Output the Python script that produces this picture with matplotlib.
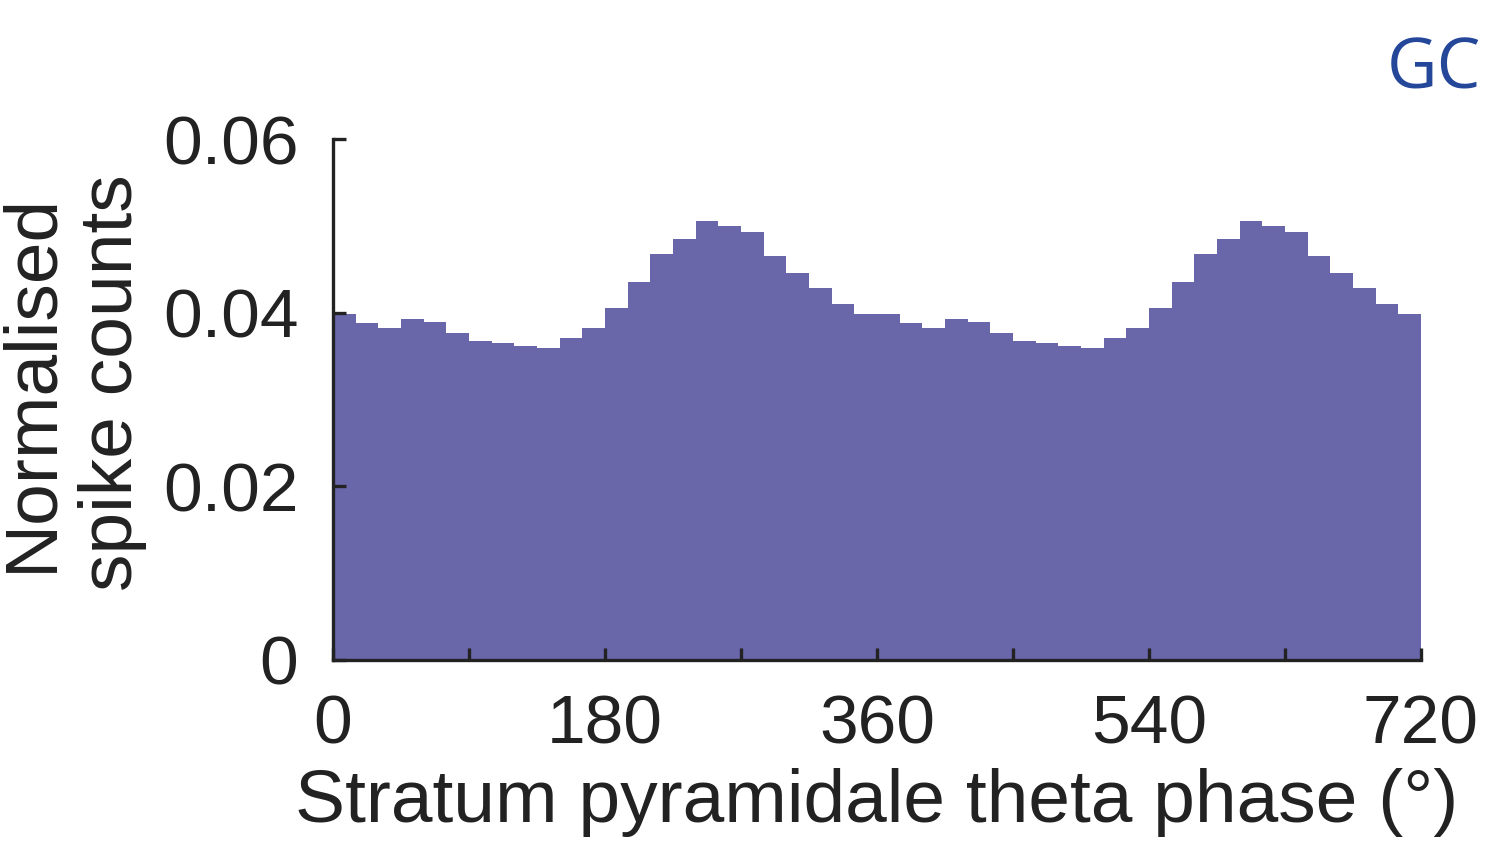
import numpy as np
import matplotlib
matplotlib.use("Agg")
import matplotlib.pyplot as plt

# ---- Data: normalised spike counts per 15 deg bin (one cycle, repeated) ----
bin_width = 15
counts_cycle = [0.0399, 0.0388, 0.0382, 0.0393, 0.0389, 0.0377, 0.0367, 0.0365,
                0.0362, 0.0359, 0.0371, 0.0382, 0.0405, 0.0435, 0.0467, 0.0485,
                0.0505, 0.0500, 0.0493, 0.0465, 0.0446, 0.0428, 0.0410, 0.0399]
counts = counts_cycle + counts_cycle
edges = np.arange(0, 720 + bin_width, bin_width)

xticks = [0, 90, 180, 270, 360, 450, 540, 630, 720]
xticklabels = ["0", "", "180", "", "360", "", "540", "", "720"]
yticks = [0, 0.02, 0.04, 0.06]
yticklabels = ["0", "0.02", "0.04", "0.06"]

bar_color = "#6967aa"
text_color = "#222222"

plt.rcParams['font.family'] = ['Liberation Sans', 'DejaVu Sans']

fig = plt.figure(figsize=(14.94, 8.56), dpi=100)
ax = fig.add_axes([0.2229, 0.2290, 0.7282, 0.6086])

ax.stairs(counts, edges, fill=True, color=bar_color, linewidth=0)

ax.set_xlim(0, 720)
ax.set_ylim(0, 0.06)
ax.set_xticks(xticks)
ax.set_xticklabels(xticklabels)
ax.set_yticks(yticks)
ax.set_yticklabels(yticklabels)

for s in ["top", "right"]:
    ax.spines[s].set_visible(False)
for s in ["left", "bottom"]:
    ax.spines[s].set_linewidth(2.4)
    ax.spines[s].set_color(text_color)

ax.tick_params(direction="in", length=9, width=2.4, colors=text_color,
               labelsize=50, pad=24)
ax.tick_params(axis="y", pad=25)

ax.set_xlabel("Stratum pyramidale theta phase (°)", fontsize=54,
              color=text_color, labelpad=8)
fig.text(0.0485, 0.553, "Normalised\nspike counts", rotation=90, fontsize=54,
         color=text_color, ha="center", va="center", linespacing=1.22)

fig.text(0.960, 0.918, "GC", fontsize=50, color="#24479a", ha="center",
         va="center", family=["Open Sans", "DejaVu Sans"])

fig.savefig("out.png", dpi=100)
